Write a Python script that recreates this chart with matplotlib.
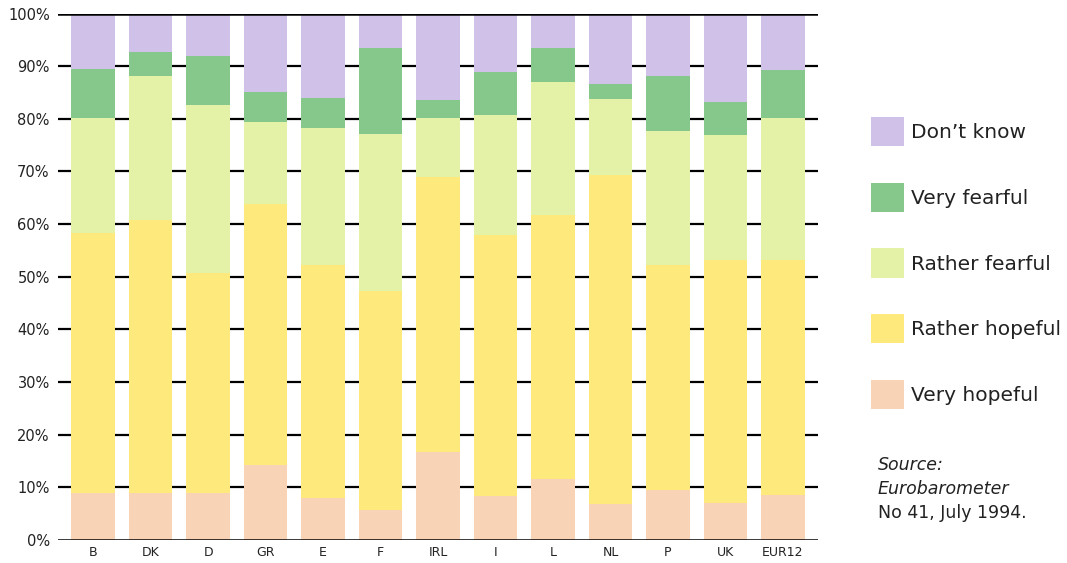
import numpy as np
import matplotlib.pyplot as plt

# Countries and survey shares (% of respondents)
countries = ["B", "DK", "D", "GR", "E", "F", "IRL", "I", "L", "NL", "P", "UK", "EUR12"]

very_hopeful = [9.0, 9.0, 9.0, 14.2, 7.9, 5.7, 16.8, 8.4, 11.5, 6.8, 9.4, 7.1, 8.5]
rather_hopeful = [49.4, 51.8, 41.8, 49.6, 44.3, 41.6, 52.1, 49.5, 50.2, 62.5, 42.8, 46.1, 44.7]
rather_fearful = [21.8, 27.3, 31.8, 15.5, 26.1, 29.8, 11.2, 22.8, 25.3, 14.4, 25.5, 23.7, 26.9]
very_fearful = [9.2, 4.6, 9.3, 5.7, 5.6, 16.3, 3.5, 8.2, 6.4, 2.9, 10.4, 6.3, 9.2]
dont_know = [10.6, 7.3, 8.1, 15.0, 16.1, 6.6, 16.4, 11.1, 6.6, 13.4, 11.9, 16.8, 10.7]

series = [
    ("Very hopeful", very_hopeful, "#f9d3b6"),
    ("Rather hopeful", rather_hopeful, "#fde97c"),
    ("Rather fearful", rather_fearful, "#e3f2a6"),
    ("Very fearful", very_fearful, "#86c78b"),
    ("Don\u2019t know", dont_know, "#cfc1e8"),
]

plt.rcParams["font.family"] = ["DejaVu Sans"]

fig = plt.figure(figsize=(10.67, 5.63), dpi=100)
ax = fig.add_axes([0.0544, 0.0409, 0.7122, 0.9351])

x = np.arange(len(countries))
bottom = np.zeros(len(countries))
handles = []
for label, values, color in series:
    vals = np.array(values)
    bars = ax.bar(x, vals, width=0.76, bottom=bottom, color=color,
                  label=label, zorder=2, linewidth=0)
    handles.append(bars)
    bottom += vals

# dashes between the bars: horizontal lines behind the bars
for level in range(10, 100, 10):
    ax.axhline(level, color="black", linewidth=1.6, zorder=1)
ax.axhline(0, color="black", linewidth=1.8, zorder=3)
ax.axhline(100, color="black", linewidth=1.8, zorder=3)

ax.set_xlim(-0.61, len(countries) - 1 + 0.61)
ax.set_ylim(0, 100)
ax.set_yticks(range(0, 101, 10))
ax.set_yticklabels([f"{v}%" for v in range(0, 101, 10)], fontsize=10.5, color="#222222")
ax.set_xticks(x)
ax.set_xticklabels(countries, fontsize=9, color="#222222")
ax.tick_params(length=0, pad=4)
ax.tick_params(axis="y", pad=6)
for s in ax.spines.values():
    s.set_visible(False)

leg = fig.legend(handles[::-1], [h.get_label() for h in handles[::-1]],
                 loc="upper left", bbox_to_anchor=(871 / 1067, 1 - 117 / 563),
                 frameon=False, fontsize=14.5, borderpad=0, borderaxespad=0,
                 handlelength=1.64, handleheight=1.86, labelspacing=1.81,
                 handletextpad=0.35)
for t in leg.get_texts():
    t.set_color("#222222")

fig.text(878 / 1067, 1 - 465 / 563, "Source:", fontsize=12.5, style="italic",
         va="center", color="#222222")
fig.text(878 / 1067, 1 - 489 / 563, "Eurobarometer", fontsize=12.5, style="italic",
         va="center", color="#222222")
fig.text(878 / 1067, 1 - 513 / 563, "No 41, July 1994.", fontsize=12.5,
         va="center", color="#222222")

fig.savefig("out.png", dpi=100)
